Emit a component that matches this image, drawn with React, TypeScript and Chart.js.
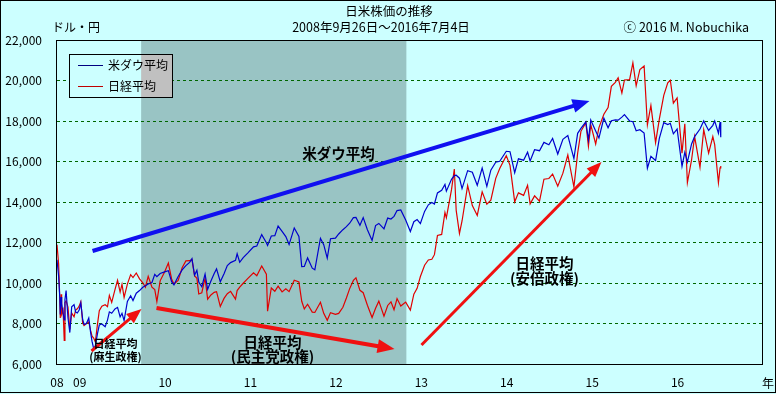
import React, { useEffect, useRef } from "react";
import { Chart, registerables } from "chart.js";

Chart.register(...registerables);

const FONT = '"Noto Sans CJK JP", "Noto Sans", sans-serif';

const chartTitle = "日米株価の推移";
const chartSubtitle = "2008年9月26日～2016年7月4日";
const unitLabel = "ドル・円";
const creditLabel = "ⓒ 2016 M. Nobuchika";
const xUnitLabel = "年";
const seriesNames = ["米ダウ平均", "日経平均"];
const seriesColors = ["#0000CC", "#E00000"];
const legendColors = ["#000080", "#C00000"];

const xStart = 2008.735;
const xEnd = 2017.0;
const xTickValues = [2008.735, 2009, 2010, 2011, 2012, 2013, 2014, 2015, 2016];
const xTickLabels = ["08", "09", "10", "11", "12", "13", "14", "15", "16"];
const yMin = 6000;
const yMax = 22000;
const yStep = 2000;

// 民主党政権 period (shaded)
const dpjPeriod = [2009.72, 2012.825];

const dates = [
  "2008-09-26","2008-10-03","2008-10-08","2008-10-10","2008-10-14","2008-10-16","2008-10-22","2008-10-27","2008-10-30",
  "2008-11-04","2008-11-12","2008-11-20","2008-11-28","2008-12-08","2008-12-15","2008-12-22","2008-12-30",
  "2009-01-06","2009-01-14","2009-01-20","2009-01-30","2009-02-09","2009-02-17","2009-02-23","2009-03-02","2009-03-09",
  "2009-03-18","2009-03-26","2009-04-06","2009-04-20","2009-04-30","2009-05-08","2009-05-18","2009-06-01","2009-06-12",
  "2009-06-23","2009-07-01","2009-07-10","2009-07-24","2009-08-07","2009-08-17","2009-08-31","2009-09-14","2009-09-28",
  "2009-10-09","2009-10-21","2009-11-06","2009-11-18","2009-11-27","2009-12-11","2009-12-30",
  "2010-01-15","2010-01-29","2010-02-08","2010-02-26","2010-03-15","2010-03-31","2010-04-16","2010-04-26","2010-05-07",
  "2010-05-17","2010-05-25","2010-06-07","2010-06-21","2010-07-02","2010-07-16","2010-07-30","2010-08-09","2010-08-25",
  "2010-09-10","2010-09-24","2010-10-08","2010-10-29","2010-11-05","2010-11-16","2010-12-01","2010-12-20",
  "2011-01-14","2011-01-28","2011-02-18","2011-03-10","2011-03-15","2011-03-31","2011-04-15","2011-04-29","2011-05-16",
  "2011-06-01","2011-06-15","2011-07-07","2011-07-27","2011-08-08","2011-08-19","2011-09-02","2011-09-22","2011-10-03",
  "2011-10-27","2011-11-10","2011-11-25","2011-12-09","2011-12-30",
  "2012-01-13","2012-01-31","2012-02-15","2012-02-29","2012-03-16","2012-03-27","2012-04-13","2012-04-27","2012-05-15",
  "2012-06-04","2012-06-19","2012-07-03","2012-07-25","2012-08-10","2012-08-24","2012-09-06","2012-09-19","2012-10-05",
  "2012-10-26","2012-11-15","2012-11-30","2012-12-14","2012-12-28",
  "2013-01-15","2013-01-31","2013-02-15","2013-02-26","2013-03-11","2013-03-29","2013-04-12","2013-04-18","2013-05-10",
  "2013-05-22","2013-05-30","2013-06-13","2013-06-24","2013-07-18","2013-08-07","2013-08-28","2013-09-18","2013-10-08",
  "2013-10-25","2013-11-15","2013-12-02","2013-12-30",
  "2014-01-15","2014-02-04","2014-02-20","2014-03-14","2014-03-31","2014-04-11","2014-04-30","2014-05-21","2014-06-09",
  "2014-06-30","2014-07-16","2014-08-07","2014-08-29","2014-09-19","2014-10-15","2014-10-31","2014-11-14","2014-12-05",
  "2014-12-16","2014-12-26",
  "2015-01-16","2015-01-30","2015-02-20","2015-03-10","2015-03-24","2015-04-10","2015-04-22","2015-05-08","2015-05-19",
  "2015-06-10","2015-06-24","2015-07-08","2015-07-24","2015-08-11","2015-08-25","2015-09-09","2015-09-29","2015-10-15",
  "2015-11-03","2015-11-20","2015-12-01","2015-12-14","2015-12-30",
  "2016-01-20","2016-02-01","2016-02-12","2016-03-01","2016-03-14","2016-04-06","2016-04-22","2016-05-13","2016-05-31",
  "2016-06-08","2016-06-24","2016-07-01","2016-07-04",
];

const dow = [
  11143,10325,9258,8451,9311,8979,8519,8176,9180,
  9625,8282,7552,8829,8934,8565,8519,8668,
  9015,8200,7949,8000,8270,7552,7114,6763,6900,
  7486,7924,7975,7841,8168,8575,8504,8721,8799,
  8323,8504,8146,9093,9370,9136,9496,9626,9789,
  9865,9949,10023,10426,10310,10471,10548,
  10610,10067,9908,10325,10643,10857,11019,11205,10380,
  10625,10043,9816,10442,9686,10098,10466,10698,10060,
  10462,10860,11006,11118,11444,11023,11255,11478,
  11787,11823,12391,11984,11855,12320,12341,12811,12548,
  12290,11897,12719,12302,10810,10818,11240,10734,10655,
  12209,11893,11231,12184,12218,
  12422,12633,12781,12952,13232,13241,12850,13228,12632,
  12101,12837,12943,12676,13207,13158,13292,13577,13610,
  13107,12542,13025,13135,12938,
  13535,13861,13981,13900,14447,14579,14865,14537,15118,
  15307,15324,15176,14660,15548,15470,14824,15676,14776,
  15570,15962,16008,16505,
  16482,15445,16133,16065,16458,16027,16581,16533,16944,
  16827,17138,16368,17098,17280,16142,17391,17634,17958,
  17068,18054,
  17512,17165,18140,17662,18012,18058,18039,18191,18312,
  18000,17966,17515,17568,17402,15666,16253,16049,17141,
  17918,17823,17888,17368,17603,
  15766,16449,15974,16865,17229,17603,18004,17535,17787,
  18005,17400,17949,17200,
];

const nikkei = [
  11893,10938,9203,8276,9447,8458,8674,7162,9029,
  9114,8809,7703,8512,8329,8665,8723,8860,
  9080,8023,7901,7994,8077,7645,7376,7280,7086,
  7945,8636,8858,8924,8828,9386,9038,9677,10135,
  9549,9939,9287,9944,10412,10268,10493,10202,10009,
  9793,10333,9790,9676,9081,10107,10546,
  10982,10198,9951,10126,10751,11090,11102,11165,10364,
  10235,9459,9520,10238,9203,9408,9537,9572,8845,
  9239,9471,9589,9202,9625,9797,9988,10216,
  10499,10360,10842,10434,8605,9755,9591,9849,9558,
  9719,9574,10137,10047,9098,8719,8950,8561,8545,
  9050,8500,8160,8537,8455,
  8500,8802,9260,9723,10129,10255,9638,9521,8900,
  8295,8752,9104,8366,8891,9070,8680,9232,8863,
  9055,8664,9446,9737,10322,
  10880,11138,11174,11399,12349,12398,13485,13220,14608,
  15627,13589,12445,13062,14809,13825,13338,14505,13894,
  14088,15166,15655,16291,
  15809,14008,14450,14327,14828,13910,14304,14043,15124,
  15162,15380,14779,15425,16321,14738,16414,17490,17920,
  16755,17818,
  16864,17674,18332,18665,19714,19908,20133,19380,20026,
  20046,20868,19737,20544,20720,17806,18770,16930,18097,
  19267,19880,20012,18883,19145,
  16416,17866,14952,16085,17233,15715,17572,16412,17234,
  16830,14952,15682,15775,
];

// Annotations in data coordinates [year, value]
const arrowFrom = [[2009.151, 11580], [2009.139, 6642], [2009.900, 8765], [2013.002, 6938]];
const arrowTo = [[2014.969, 18988], [2009.724, 8716], [2012.686, 6741], [2015.109, 15975]];
const arrowColors = ["#1010F0", "#F01010", "#F01010", "#F01010"];
const arrowWidths = [4, 3, 4, 3];

const noteText = [["米ダウ平均"], ["日経平均", "(麻生政権)"], ["日経平均", "(民主党政権)"], ["日経平均", "(安倍政権)"]];
const noteAt = [[2012.030, 16420], [2009.420, 6988], [2011.258, 7086], [2014.442, 10988]];
const noteSizes = [14.5, 11, 14.5, 14.5];
const noteLineGap = [0, 13, 14, 15];

function toYear(s: string): number {
  const d = Date.parse(s + "T00:00:00Z");
  const y = Number(s.slice(0, 4));
  const a = Date.UTC(y, 0, 1);
  const b = Date.UTC(y + 1, 0, 1);
  return y + (d - a) / (b - a);
}

const BG = "#CCFFFF";
const BAND = "#99C4C4";

const decorPlugin = {
  id: "decor",
  beforeDraw(chart: any) {
    const { ctx, chartArea, scales } = chart;
    ctx.save();
    ctx.fillStyle = BG;
    ctx.fillRect(0, 0, chart.width, chart.height);
    const x1 = scales.x.getPixelForValue(dpjPeriod[0]);
    const x2 = scales.x.getPixelForValue(dpjPeriod[1]);
    ctx.fillStyle = BAND;
    ctx.fillRect(x1, chartArea.top, x2 - x1, chartArea.bottom - chartArea.top);
    ctx.restore();
  },
  afterDatasetsDraw(chart: any) {
    const { ctx, scales } = chart;
    const xs = scales.x;
    const ys = scales.y;
    ctx.save();
    // arrows
    for (let i = 0; i < arrowFrom.length; i++) {
      const x0 = xs.getPixelForValue(arrowFrom[i][0]);
      const y0 = ys.getPixelForValue(arrowFrom[i][1]);
      const x1 = xs.getPixelForValue(arrowTo[i][0]);
      const y1 = ys.getPixelForValue(arrowTo[i][1]);
      const ang = Math.atan2(y1 - y0, x1 - x0);
      const hl = arrowWidths[i] >= 4 ? 17 : 15;
      const hw = arrowWidths[i] >= 4 ? 7 : 6;
      const bx = x1 - Math.cos(ang) * hl;
      const by = y1 - Math.sin(ang) * hl;
      ctx.strokeStyle = arrowColors[i];
      ctx.fillStyle = arrowColors[i];
      ctx.lineWidth = arrowWidths[i];
      ctx.lineCap = "butt";
      ctx.beginPath();
      ctx.moveTo(x0, y0);
      ctx.lineTo(bx + Math.cos(ang) * 2, by + Math.sin(ang) * 2);
      ctx.stroke();
      ctx.beginPath();
      ctx.moveTo(x1, y1);
      ctx.lineTo(bx + Math.sin(ang) * hw, by - Math.cos(ang) * hw);
      ctx.lineTo(bx - Math.sin(ang) * hw, by + Math.cos(ang) * hw);
      ctx.closePath();
      ctx.fill();
    }
    // notes
    ctx.fillStyle = "#000";
    ctx.textAlign = "center";
    ctx.textBaseline = "middle";
    for (let i = 0; i < noteText.length; i++) {
      const cx = xs.getPixelForValue(noteAt[i][0]);
      const cy = ys.getPixelForValue(noteAt[i][1]);
      ctx.font = `bold ${noteSizes[i]}px ${FONT}`;
      noteText[i].forEach((t, k) => ctx.fillText(t, cx, cy + k * noteLineGap[i]));
    }
    ctx.restore();
  },
  afterDraw(chart: any) {
    const { ctx, chartArea, scales } = chart;
    ctx.save();
    // plot border
    ctx.strokeStyle = "#000";
    ctx.lineWidth = 1;
    ctx.strokeRect(Math.round(chartArea.left) - 0.5, Math.round(chartArea.top) + 0.5,
      Math.round(chartArea.right - chartArea.left), Math.round(chartArea.bottom - chartArea.top));
    // outer border
    ctx.strokeRect(0.5, 0.5, chart.width - 1, chart.height - 2);
    // titles
    ctx.fillStyle = "#000";
    ctx.textBaseline = "middle";
    ctx.textAlign = "center";
    ctx.font = `12.5px ${FONT}`;
    ctx.fillText(chartTitle, 389, 11);
    ctx.fillText(chartSubtitle, 381, 27);
    ctx.textAlign = "left";
    ctx.font = `12px ${FONT}`;
    ctx.fillText(unitLabel, 52, 27);
    ctx.textAlign = "right";
    ctx.font = `12.5px ${FONT}`;
    ctx.fillText(creditLabel, 749, 27);
    ctx.textAlign = "left";
    ctx.font = `12px ${FONT}`;
    ctx.fillText(xUnitLabel, 762, 383);
    // legend
    const lx = 69, ly = 54, lw = 103, lh = 43;
    ctx.fillStyle = BG;
    ctx.fillRect(lx, ly, lw, lh);
    const bandL = scales.x.getPixelForValue(dpjPeriod[0]);
    ctx.fillStyle = "#C0C0C0";
    ctx.fillRect(bandL, ly, lx + lw - bandL, lh);
    ctx.strokeStyle = "#000";
    ctx.strokeRect(lx + 0.5, ly + 0.5, lw, lh);
    ctx.font = `12px ${FONT}`;
    ctx.textAlign = "left";
    for (let i = 0; i < seriesNames.length; i++) {
      const yy = ly + 11.5 + i * 21;
      ctx.strokeStyle = legendColors[i];
      ctx.lineWidth = 1;
      ctx.beginPath();
      ctx.moveTo(78, yy);
      ctx.lineTo(103, yy);
      ctx.stroke();
      ctx.fillStyle = "#000";
      ctx.fillText(seriesNames[i], 108, yy);
    }
    ctx.restore();
  },
};

export default function App() {
  const ref = useRef<HTMLCanvasElement | null>(null);
  useEffect(() => {
    document.body.style.margin = "0";
    const canvas = ref.current!;
    const xs = dates.map(toYear);
    const chart = new Chart(canvas, {
      type: "line",
      data: {
        datasets: [
          {
            label: seriesNames[0],
            data: xs.map((x, i) => ({ x, y: dow[i] })),
            borderColor: seriesColors[0],
            borderWidth: 1.2,
            pointRadius: 0,
            tension: 0,
          },
          {
            label: seriesNames[1],
            data: xs.map((x, i) => ({ x, y: nikkei[i] })),
            borderColor: seriesColors[1],
            borderWidth: 1.2,
            pointRadius: 0,
            tension: 0,
          },
        ],
      },
      options: {
        responsive: false,
        animation: false,
        devicePixelRatio: 1,
        layout: { padding: { top: 40, right: 13, left: 0, bottom: 0 } },
        plugins: { legend: { display: false }, title: { display: false }, tooltip: { enabled: false } },
        scales: {
          x: {
            type: "linear",
            min: xStart,
            max: xEnd,
            grid: { display: false },
            border: { display: false },
            afterBuildTicks: (scale: any) => {
              scale.ticks = xTickValues.map((v) => ({ value: v }));
            },
            afterFit: (scale: any) => {
              scale.height = 30;
            },
            ticks: {
              autoSkip: false,
              maxRotation: 0,
              padding: 3,
              color: "#000",
              font: { family: FONT, size: 12 },
              callback: (v: any) => {
                const idx = xTickValues.findIndex((t) => Math.abs(t - Number(v)) < 1e-6);
                return idx >= 0 ? xTickLabels[idx] : "";
              },
            },
          },
          y: {
            min: yMin,
            max: yMax,
            grid: { color: "#006600", lineWidth: 1, drawTicks: false },
            border: { display: false, dash: [3, 3] },
            afterFit: (scale: any) => {
              scale.width = 57;
            },
            ticks: {
              stepSize: yStep,
              padding: 15,
              color: "#000",
              font: { family: FONT, size: 12 },
              callback: (v: any) => Number(v).toLocaleString("en-US"),
            },
          },
        },
      },
      plugins: [decorPlugin],
    });
    return () => chart.destroy();
  }, []);
  return <canvas ref={ref} width={776} height={394} style={{ display: "block" }} />;
}
